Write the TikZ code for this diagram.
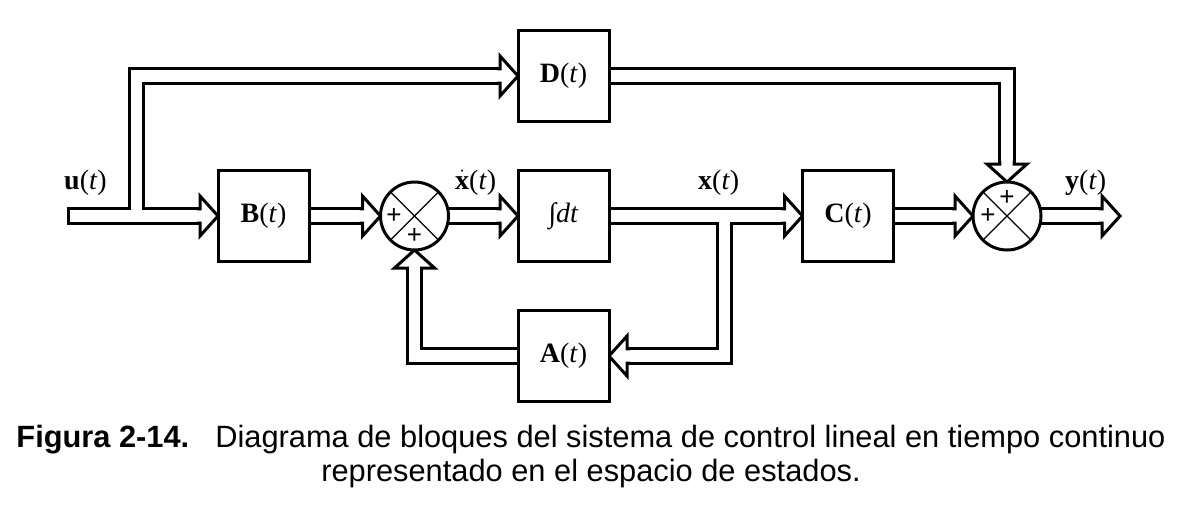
\documentclass[tikz,border=0pt]{standalone}
\usepackage{fontspec}
\setmainfont{Liberation Serif}
\newfontfamily\capfont{Liberation Sans}
\pgfdeclarelayer{bg}
\pgfsetlayers{bg,main}
\newcommand\hollowhead[2]{%
  \begin{scope}[shift={(#1)},rotate=#2]
    \fill[white] (-18.5,-20) -- (0,0) -- (-18.5,20) -- cycle;
    \draw[line width=3pt,line join=miter,miter limit=10] (-21,-7.2) -- (-18,-7.2) -- (-18,-20) -- (0,0) -- (-18,20) -- (-18,7.2) -- (-21,7.2);
  \end{scope}}
\newcommand\shaftpaths[1]{%
  \draw[#1] (split1) -- (corner1) -- ([xshift=-18pt]D.west);
  \draw[#1] (B.east) -- ([xshift=-18pt]s1.west);
  \draw[#1] (s1.east) -- ([xshift=-18pt]I.west);
  \draw[#1] (I.east) -- ([xshift=-18pt]C.west);
  \draw[#1] (split2) -- (corner2) -- ([xshift=18pt]A.east);
  \draw[#1] (A.west) -- (corner3) -- ([yshift=-18pt]s1.south);
  \draw[#1] (C.east) -- ([xshift=-18pt]s2.west);
  \draw[#1] (D.east) -- (corner4) -- ([yshift=18pt]s2.north);
  \draw[#1] (s2.east) -- ([xshift=-18pt]yout);
}
\begin{document}
\begin{tikzpicture}[x=1pt,y=-1pt,
  outerline/.style={line width=17.4pt,draw=black,line join=miter},
  innerline/.style={line width=11.4pt,draw=white,line join=miter},
  blk/.style={draw,line width=3pt,fill=white,minimum width=91pt,minimum height=91pt,inner sep=0pt,outer sep=0pt,font=\fontsize{28}{32}\selectfont},
  sumj/.style={draw,circle,line width=3pt,fill=white,minimum size=68pt,inner sep=0pt,outer sep=0pt},
  lab/.style={inner sep=0pt,font=\fontsize{28}{32}\selectfont},
  pl/.style={inner sep=0pt,font=\capfont\fontsize{26}{28}\selectfont},
  captxt/.style={inner sep=0pt,font=\capfont\fontsize{30.8}{34}\selectfont}]
\useasboundingbox (0,0) rectangle (1187,520);

\node[blk] (B) at (263.5,216) {\textbf{B}(\textit{t})};
\node[blk] (I) at (563.5,216) {∫\textit{dt}};
\node[blk] (D) at (563.5,76) {\textbf{D}(\textit{t})};
\node[blk] (A) at (563.5,356) {\textbf{A}(\textit{t})};
\node[blk] (C) at (848,216) {\textbf{C}(\textit{t})};
\node[sumj] (s1) at (414.5,216) {};
\node[sumj] (s2) at (1007,216) {};
\draw[line width=1.2pt] (s1.north west) -- (s1.south east) (s1.north east) -- (s1.south west);
\draw[line width=1.2pt] (s2.north west) -- (s2.south east) (s2.north east) -- (s2.south west);
\node[pl] (p1a) at (394,216) {+};
\node[pl] (p1b) at (414.5,236) {+};
\node[pl] (p2a) at (1007,198) {+};
\node[pl] (p2b) at (988,216) {+};

\coordinate (uin) at (68,216);
\coordinate (split1) at (136.5,216);
\coordinate (corner1) at (136.5,76);
\coordinate (split2) at (724.5,216);
\coordinate (corner2) at (724.5,356);
\coordinate (corner3) at (414.5,356);
\coordinate (corner4) at (1007,76);
\coordinate (yout) at (1120,216);

\begin{pgfonlayer}{bg}
  \fill[white] (0,0) rectangle (1187,520);
  \draw[outerline] ([xshift=-1.5pt]uin) -- ([xshift=-18pt]B.west);
  \shaftpaths{outerline}
  \draw[innerline] ([xshift=1.5pt]uin) -- ([xshift=-18pt]B.west);
  \shaftpaths{innerline}
  \hollowhead{B.west}{0}
  \hollowhead{D.west}{0}
  \hollowhead{s1.west}{0}
  \hollowhead{I.west}{0}
  \hollowhead{C.west}{0}
  \hollowhead{A.east}{180}
  \hollowhead{s1.south}{90}
  \hollowhead{s2.west}{0}
  \hollowhead{s2.north}{-90}
  \hollowhead{yout}{0}
\end{pgfonlayer}

\node[lab,anchor=base west] (lu) at (64,189) {\textbf{u}(\textit{t})};
\node[lab,anchor=base west] (lxd) at (455,189) {$\dot{\hbox{\bfseries x}}$(\textit{t})};
\node[lab,anchor=base west] (lx) at (698,189) {\textbf{x}(\textit{t})};
\node[lab,anchor=base west] (ly) at (1065,189) {\textbf{y}(\textit{t})};

\node[captxt,anchor=base] (c1) at (591,447) {{\bfseries Figura 2-14.}\hspace{26pt}Diagrama de bloques del sistema de control lineal en tiempo continuo};
\node[captxt,anchor=base] (c2) at (591,481) {representado en el espacio de estados.};
\end{tikzpicture}
\end{document}
